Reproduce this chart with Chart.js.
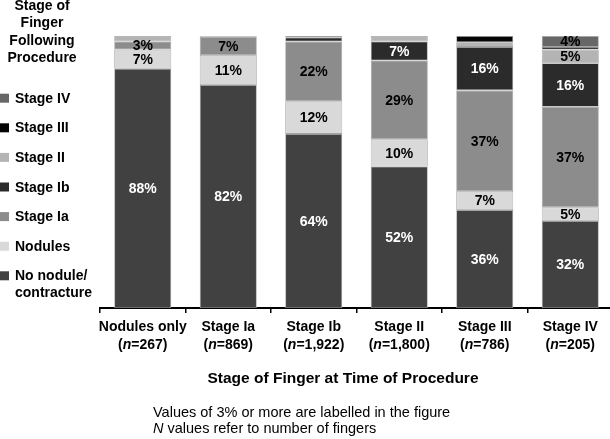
<!DOCTYPE html>
<html>
<head>
<meta charset="utf-8">
<script src="https://cdn.jsdelivr.net/npm/chart.js@4"></script>
<style>
html,body{margin:0;padding:0;background:#fff;overflow:hidden;width:610px;height:439px;}
canvas{display:block;}
</style>
</head>
<body>
<canvas id="c" width="613" height="439"></canvas>
<script>
const categories = ['Nodules only','Stage Ia','Stage Ib','Stage II','Stage III','Stage IV'];
const nValues = ['267','869','1,922','1,800','786','205'];
const seriesNames = ['No nodule/\ncontracture','Nodules','Stage Ia','Stage Ib','Stage II','Stage III','Stage IV'];
const noNodule = [88, 82, 64, 52, 36, 32];
const nodules  = [7, 11, 12, 10, 7, 5];
const stageIa  = [3, 6.7, 22, 29, 37, 37];
const stageIb  = [0, 0.3, 1.5, 7, 16, 16];
const stageII  = [2, 0, 0, 2, 1.7, 5];
const stageIII = [0, 0, 0.5, 0, 2.3, 1];
const stageIV  = [0, 0, 0, 0, 0, 4];
const colors = ['#414141','#d9d9d9','#8c8c8c','#2b2b2b','#b4b4b4','#050505','#676767'];
const labelColors = ['#fff','#000','#000','#fff','#000','#fff','#000'];
const legendTitle = ['Stage of','Finger','Following','Procedure'];
const axisTitle = 'Stage of Finger at Time of Procedure';
const footnotes = [[{t:'Values of 3% or more are labelled in the figure'}],[{t:'N',i:true},{t:' values refer to number of fingers'}]];

const allSeries = [noNodule, nodules, stageIa, stageIb, stageII, stageIII, stageIV];
const FONT = '"Liberation Sans", Arial, Helvetica, sans-serif';

function richWidth(ctx, parts, size, weight){
  let w = 0;
  for (const p of parts){ ctx.font = (p.i?'italic ':'') + weight + ' ' + size + 'px ' + FONT; w += ctx.measureText(p.t).width; }
  return w;
}
function drawRich(ctx, parts, x, y, size, weight, align){
  let w = richWidth(ctx, parts, size, weight);
  let cx = align === 'center' ? x - w/2 : x;
  ctx.textAlign = 'left';
  for (const p of parts){
    ctx.font = (p.i?'italic ':'') + weight + ' ' + size + 'px ' + FONT;
    ctx.fillText(p.t, cx, y);
    cx += ctx.measureText(p.t).width;
  }
}

const overlay = {
  id: 'overlay',
  afterDatasetsDraw(chart){
    const ctx = chart.ctx;
    ctx.save();
    ctx.textBaseline = 'middle';
    ctx.textAlign = 'center';
    ctx.font = 'bold 14px ' + FONT;
    chart.data.datasets.forEach((ds, di) => {
      const meta = chart.getDatasetMeta(di);
      meta.data.forEach((el, i) => {
        const v = ds.data[i];
        if (v == null || Math.round(v) < 3) return;
        ctx.fillStyle = labelColors[di];
        ctx.fillText(Math.round(v) + '%', el.x, (el.y + el.base)/2 + 1);
      });
    });
    ctx.restore();
  },
  afterDraw(chart){
    const ctx = chart.ctx;
    const xs = chart.scales.x;
    ctx.save();
    ctx.fillStyle = '#000';
    ctx.textBaseline = 'alphabetic';
    categories.forEach((c, i) => {
      const x = xs.getPixelForValue(i);
      drawRich(ctx, [{t:c}], x, 331, 14, 'bold', 'center');
      drawRich(ctx, [{t:'('},{t:'n',i:true},{t:'=' + nValues[i] + ')'}], x, 349, 14, 'bold', 'center');
    });
    drawRich(ctx, [{t:axisTitle}], 343, 383, 15.5, 'bold', 'center');
    drawRich(ctx, footnotes[0], 153, 417, 14.5, 'normal', 'left');
    drawRich(ctx, footnotes[1], 153, 433, 14.5, 'normal', 'left');
    legendTitle.forEach((t, i) => drawRich(ctx, [{t}], 42, 9.5 + i*17.6, 14, 'bold', 'center'));
    const n = chart.data.datasets.length;
    for (let k = 0; k < n; k++){
      const di = n - 1 - k;
      const base = 102.7 + k*29.6;
      ctx.fillStyle = chart.data.datasets[di].backgroundColor;
      ctx.fillRect(0, base - 9, 9, 9);
      ctx.fillStyle = '#000';
      const lines = chart.data.datasets[di].label.split('\n');
      lines.forEach((ln, j) => drawRich(ctx, [{t:ln}], 15, base + j*17, 14, 'bold', 'left'));
    }
    ctx.restore();
  }
};

new Chart(document.getElementById('c'), {
  type: 'bar',
  data: {
    labels: categories,
    datasets: allSeries.map((d, i) => ({
      label: seriesNames[i],
      data: d,
      backgroundColor: colors[i],
      borderColor: '#a3a3a3',
      borderWidth: c => (c.raw > 0 ? 0.8 : 0),
      borderSkipped: false,
      barPercentage: 0.667,
      categoryPercentage: 1
    }))
  },
  options: {
    responsive: false,
    animation: false,
    layout: { padding: { top: 36, left: 100, right: 0, bottom: 0 } },
    plugins: { legend: { display: false }, tooltip: { enabled: false } },
    scales: {
      x: {
        stacked: true,
        afterFit: s => { s.height = 131; },
        ticks: { display: false },
        grid: { drawOnChartArea: false, drawTicks: true, tickLength: 5, color: '#000', lineWidth: 1.5 },
        border: { display: true, color: '#000', width: 2 }
      },
      y: { stacked: true, display: false, min: 0, max: 100 }
    }
  },
  plugins: [overlay]
});
</script>
</body>
</html>
